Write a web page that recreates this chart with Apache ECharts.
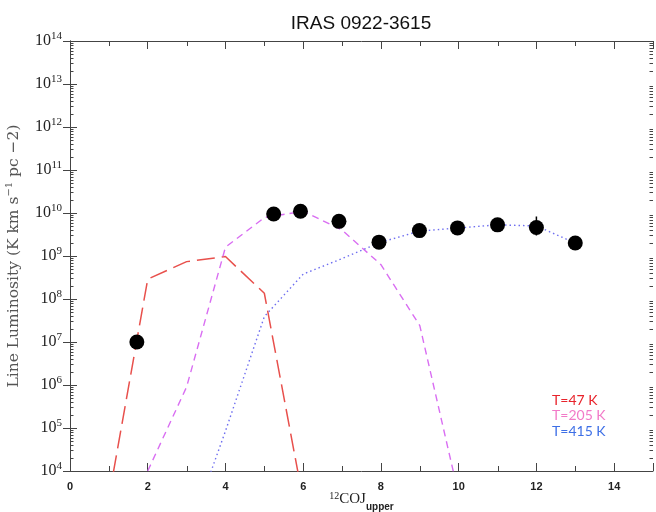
<!DOCTYPE html>
<html>
<head>
<meta charset="utf-8">
<script src="https://cdn.jsdelivr.net/npm/echarts@6/dist/echarts.min.js"></script>
<style>html,body{margin:0;padding:0;background:#fff}#c{width:656px;height:512px}</style>
</head>
<body>
<div id="c"></div>
<script>
// ---- data ----
const titleText = 'IRAS 0922-3615';
const modelJ47 = [1, 2, 3, 4, 5, 6];
const lum47 = [2.4e3, 2.9e8, 7.4e8, 9.7e8, 1.36e8, 2.1e3];
const modelJ205 = [2, 3, 4, 5, 6, 7, 8, 9, 10];
const lum205 = [1.0e4, 9.0e5, 1.6e9, 7.8e9, 1.1e10, 4.0e9, 6.3e8, 2.4e7, 2.8e3];
const modelJ415 = [3, 4, 5, 6, 7, 8, 9, 10, 11, 12, 13];
const lum415 = [250, 8.5e4, 3.9e7, 3.8e8, 8.7e8, 2.1e9, 3.8e9, 4.5e9, 5.3e9, 5.0e9, 2.0e9];
const obsJ = [1.72, 5.24, 5.93, 6.92, 7.95, 8.99, 9.97, 11.0, 12.0, 13.0];
const obsLum = [1.0e7, 9.5e9, 1.1e10, 6.4e9, 2.1e9, 3.9e9, 4.5e9, 5.3e9, 4.6e9, 2.0e9];
const errJ = [1.72, 12.0];
const errLow = [7.5e6, 3.0e9];
const errHigh = [1.3e7, 8.3e9];
const legendNames = ['T=47 K', 'T=205 K', 'T=415 K'];
const legendColors = ['#e8232b', '#f27ac8', '#3d6fe6'];
const xMajorTicks = [0, 2, 4, 6, 8, 10, 12, 14];
const xMinorTicks = [1, 3, 5, 7, 9, 11, 13];
const yDecades = [4, 5, 6, 7, 8, 9, 10, 11, 12, 13];
const logMinorMultipliers = [2, 3, 4, 5, 6, 7, 8, 9];

const zip = (xs, ys) => xs.map((x, i) => [x, ys[i]]);
const yMinorData = [];
yDecades.forEach(d => logMinorMultipliers.forEach(m => yMinorData.push([0, m * Math.pow(10, d)])));
const xMinorData = xMinorTicks.map(x => [x, 1e4]);

const axisColor = '#444';
const chart = echarts.init(document.getElementById('c'));

const errSeries = errJ.map((x, i) => ({
  type: 'line', data: [[x, errLow[i]], [x, errHigh[i]]], symbol: 'none',
  lineStyle: { color: '#000', width: 1.5 }, silent: true, z: 4, animation: false
}));

chart.setOption({
  animation: false,
  title: {
    text: titleText, left: 356, top: 9, textAlign: 'center',
    textStyle: { fontFamily: 'Liberation Sans', fontSize: 19, fontWeight: 'normal', color: '#111' }
  },
  legend: {
    data: legendNames.map((n, i) => ({ name: n, textStyle: { color: legendColors[i] } })),
    orient: 'vertical', left: 542, top: 388, itemWidth: 0, itemHeight: 14, itemGap: 1.5,
    icon: 'rect', selectedMode: false,
    textStyle: { fontFamily: 'Lato', fontSize: 14 }
  },
  grid: { left: 70, right: 3, top: 41, bottom: 41, containLabel: false, outerBoundsMode: 'none' },
  xAxis: [{
    type: 'value', min: 0, max: 15, interval: 2, position: 'bottom',
    name: '{sup|12}{main|COJ}{sub|upper}', nameLocation: 'middle', nameGap: 15, nameMoveOverlap: false,
    nameTextStyle: {
      rich: {
        sup: { fontFamily: 'Liberation Serif', fontSize: 10, color: '#222', verticalAlign: 'top', lineHeight: 10, padding: [5, 0, 0, 0] },
        main: { fontFamily: 'Liberation Serif', fontSize: 15, color: '#222', lineHeight: 26, verticalAlign: 'middle' },
        sub: { fontFamily: 'Liberation Sans', fontWeight: 'bold', fontSize: 10, color: '#222', verticalAlign: 'bottom', lineHeight: 10 }
      }
    },
    axisLine: { show: true, lineStyle: { color: axisColor, width: 1 } },
    axisTick: { show: true, inside: true, length: 8, lineStyle: { color: axisColor } },
    axisLabel: {
      margin: 10, fontFamily: 'Liberation Sans', fontWeight: 'bold', fontSize: 11, color: '#222',
      formatter: v => (xMajorTicks.indexOf(v) >= 0 ? String(v) : '')
    },
    splitLine: { show: false }
  }, {
    type: 'value', min: 0, max: 15, interval: 2, position: 'top',
    axisLine: { show: true, lineStyle: { color: axisColor, width: 1 } },
    axisTick: { show: true, inside: true, length: 8, lineStyle: { color: axisColor } },
    axisLabel: { show: false }, splitLine: { show: false }
  }],
  yAxis: [{
    type: 'log', logBase: 10, min: 1e4, max: 1e14, interval: 1, splitNumber: 10, position: 'left',
    name: '{a|Line Luminosity (K km s}{s|−1}{a| pc −2)}', nameLocation: 'middle', nameGap: 46, nameMoveOverlap: false,
    nameTextStyle: {
      rich: {
        a: { fontFamily: 'DejaVu Serif', fontSize: 15.5, color: '#555', lineHeight: 20 },
        s: { fontFamily: 'DejaVu Serif', fontSize: 10, color: '#555', verticalAlign: 'top', lineHeight: 13 }
      }
    },
    axisLine: { show: true, lineStyle: { color: axisColor, width: 1 } },
    axisTick: { show: true, inside: true, length: 7, lineStyle: { color: axisColor } },
    axisLabel: {
      margin: 8,
      formatter: v => '{b|10}{s|' + Math.round(Math.log10(v)) + '}',
      rich: {
        b: { fontFamily: 'Liberation Serif', fontSize: 16, color: '#222', lineHeight: 20 },
        s: { fontFamily: 'Liberation Serif', fontSize: 11, color: '#222', verticalAlign: 'top', lineHeight: 13 }
      }
    },
    splitLine: { show: false }
  }, {
    type: 'log', logBase: 10, min: 1e4, max: 1e14, interval: 1, splitNumber: 10, position: 'right',
    axisLine: { show: true, lineStyle: { color: axisColor, width: 1 } },
    axisTick: { show: true, inside: true, length: 7, lineStyle: { color: axisColor } },
    axisLabel: { show: false }, splitLine: { show: false }
  }],
  series: [
    {
      name: legendNames[0], type: 'line', data: zip(modelJ47, lum47), symbol: 'none', clip: true,
      lineStyle: { color: '#e8504c', width: 1.5, type: [18, 7] }, itemStyle: { color: legendColors[0] }, z: 2
    },
    {
      name: legendNames[1], type: 'line', data: zip(modelJ205, lum205), symbol: 'none', clip: true,
      lineStyle: { color: '#d96ef2', width: 1.4, type: [7, 5] }, itemStyle: { color: legendColors[1] }, z: 2
    },
    {
      name: legendNames[2], type: 'line', data: zip(modelJ415, lum415), symbol: 'none', clip: true,
      lineStyle: { color: '#6f6ff0', width: 1.4, type: [1.5, 3] }, itemStyle: { color: legendColors[2] }, z: 2
    },
    ...errSeries,
    {
      name: 'obs', type: 'scatter', data: zip(obsJ, obsLum), symbol: 'circle', symbolSize: 15,
      itemStyle: { color: '#000', opacity: 1 }, z: 5
    },
    {
      name: 'yminor', type: 'custom', data: yMinorData, silent: true, clip: false, z: 3,
      renderItem: (params, api) => {
        const cs = params.coordSys;
        const y = Math.round(api.coord([api.value(0), api.value(1)])[1]) + 0.5;
        const xl = cs.x, xr = cs.x + cs.width;
        return { type: 'group', children: [
          { type: 'line', shape: { x1: xl, y1: y, x2: xl + 3.5, y2: y }, style: { stroke: axisColor, lineWidth: 1 } },
          { type: 'line', shape: { x1: xr - 3.5, y1: y, x2: xr, y2: y }, style: { stroke: axisColor, lineWidth: 1 } }
        ] };
      }
    },
    {
      name: 'xminor', type: 'custom', data: xMinorData, silent: true, clip: false, z: 3,
      renderItem: (params, api) => {
        const cs = params.coordSys;
        const x = Math.round(api.coord([api.value(0), api.value(1)])[0]) + 0.5;
        const yb = cs.y + cs.height, yt = cs.y;
        return { type: 'group', children: [
          { type: 'line', shape: { x1: x, y1: yb, x2: x, y2: yb - 5 }, style: { stroke: axisColor, lineWidth: 1 } },
          { type: 'line', shape: { x1: x, y1: yt, x2: x, y2: yt + 5 }, style: { stroke: axisColor, lineWidth: 1 } }
        ] };
      }
    }
  ]
});
</script>
</body>
</html>
